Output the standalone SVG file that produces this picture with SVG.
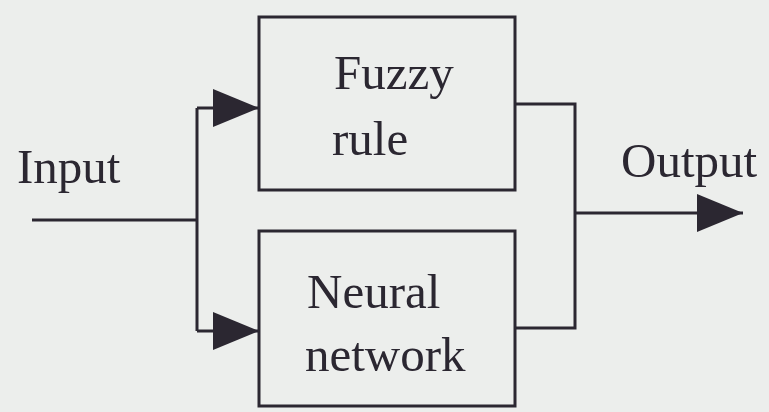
<svg xmlns="http://www.w3.org/2000/svg" width="769" height="412" viewBox="0 0 769 412">
  <style>
    .box { fill: none; stroke: #2b2731; stroke-width: 3; }
    .wire { fill: none; stroke: #2b2731; stroke-width: 3; }
    .label { font-size: 49px; fill: #2b2731; }
  </style>
  <defs>
    <marker id="arrow" viewBox="0 0 46 38" refX="46" refY="19" markerWidth="46" markerHeight="38" markerUnits="userSpaceOnUse" orient="auto">
      <path d="M0,0 L46,19 L0,38 Z" fill="#2b2731"/>
    </marker>
  </defs>
  <rect width="769" height="412" fill="#eceeec"/>

  <g id="connectors">
    <!-- input feed and split -->
    <path class="wire" d="M32,220 H197"/>
    <path class="wire" d="M197,108 V331"/>
    <path class="wire" d="M197,108 H259" marker-end="url(#arrow)"/>
    <path class="wire" d="M197,331 H259" marker-end="url(#arrow)"/>
    <!-- outputs merge -->
    <path class="wire" d="M515,104 H575 V328 H515"/>
    <path class="wire" d="M575,213 H743" marker-end="url(#arrow)"/>
  </g>

  <g font-family="'Liberation Serif', 'Times New Roman', serif">
    <g id="input-label">
      <text class="label" x="17" y="183">Input</text>
    </g>

    <g id="fuzzy-rule">
      <rect class="box" x="259" y="17" width="256" height="173"/>
      <text class="label" x="334" y="89">Fuzzy</text>
      <text class="label" x="332" y="155">rule</text>
    </g>

    <g id="neural-network">
      <rect class="box" x="259" y="231" width="256" height="175"/>
      <text class="label" x="307" y="308">Neural</text>
      <text class="label" x="305" y="371">network</text>
    </g>

    <g id="output-label">
      <text class="label" x="621" y="177">Output</text>
    </g>
  </g>
</svg>
